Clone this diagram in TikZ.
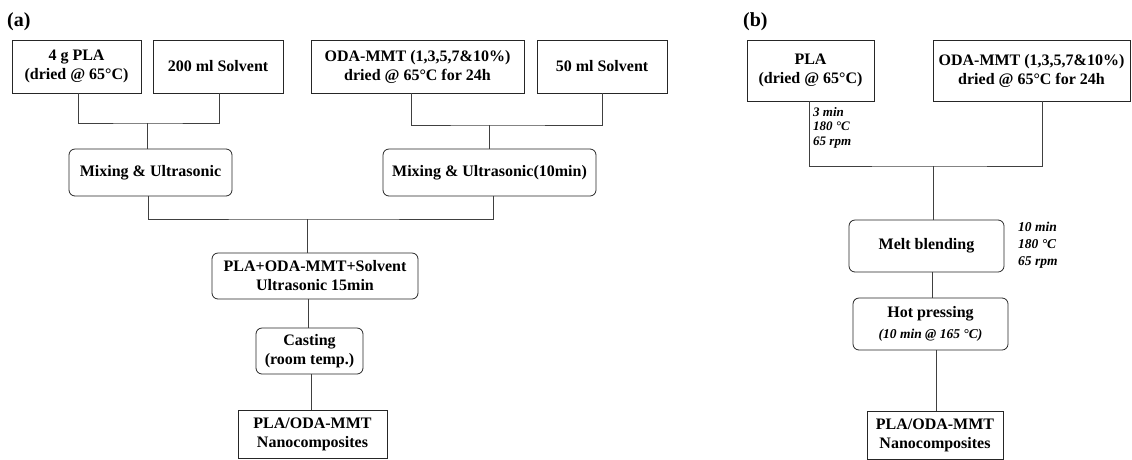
\documentclass[tikz,border=0pt]{standalone}
\usepackage{fontspec}
\setmainfont{Liberation Serif}
\begin{document}
\begin{tikzpicture}[x=1pt,y=-1pt,
  box/.style={draw=black!85, line width=0.8pt, align=center, inner sep=0pt,
    font=\fontsize{16}{19}\selectfont\bfseries},
  rbox/.style={box, rounded corners=6pt},
  conn/.style={draw=black!75, line width=0.8pt},
  note/.style={align=left, inner sep=0pt, anchor=north west,
    font=\fontsize{13}{14.5}\selectfont\bfseries\itshape},
  lab/.style={inner sep=0pt, anchor=north west, font=\fontsize{20}{20}\selectfont\bfseries}]
\useasboundingbox (0,0) rectangle (1132,459);
% panel (a)
\node[lab] (la) at (7,12) {(a)};
\node[box, minimum width=129, minimum height=53] (A1) at (76.5,66.5) {4 g PLA\\(dried @ 65°C)};
\node[box, minimum width=130, minimum height=53] (A2) at (218,66.5) {200 ml Solvent};
\node[box, minimum width=213, minimum height=53] (A3) at (417.5,66.5) {ODA-MMT (1,3,5,7\&10\%)\\dried @ 65°C for 24h};
\node[box, minimum width=130, minimum height=53] (A4) at (602,66.5) {50 ml Solvent};
\node[rbox, minimum width=163, minimum height=47] (M1) at (150.5,172.5) {Mixing \& Ultrasonic};
\node[rbox, minimum width=213, minimum height=47] (M2) at (489.5,172.5) {Mixing \& Ultrasonic(10min)};
\node[rbox, minimum width=206, minimum height=46] (P) at (315,276) {PLA+ODA-MMT+Solvent\\Ultrasonic 15min};
\node[rbox, minimum width=107, minimum height=46] (C) at (309.5,351) {Casting\\(room temp.)};
\node[box, minimum width=149, minimum height=48] (F) at (312.5,434) {PLA/ODA-MMT\\Nanocomposites};
\coordinate (j1) at (147,123);
\coordinate (j2) at (489,125);
\coordinate (j3) at (307,219);
\draw[conn] ([xshift=1.5pt]A1.south) |- (j1) -| ([xshift=1pt]A2.south);
\draw[conn] (j1) -- (M1.north -| j1);
\draw[conn] ([xshift=-6.5pt]A3.south) |- (j2) -| (A4.south);
\draw[conn] (j2) -- (M2.north -| j2);
\draw[conn] ([xshift=-2.5pt]M1.south) |- (j3) -| ([xshift=3.5pt]M2.south);
\draw[conn] (j3) -- (P.north -| j3);
\draw[conn] ([xshift=-7pt]P.south) -- ([xshift=-1.5pt]C.north);
\draw[conn] ([xshift=1.5pt]C.south) -- ([xshift=-1.5pt]F.north);
% panel (b)
\node[lab] (lb) at (743,12) {(b)};
\node[box, minimum width=127, minimum height=61] (B1) at (810.5,70.5) {PLA\\(dried @ 65°C)};
\node[box, minimum width=197, minimum height=61] (B2) at (1031.5,70.5) {ODA-MMT (1,3,5,7\&10\%)\\dried @ 65°C for 24h};
\node[rbox, minimum width=155, minimum height=52] (MB) at (926.5,246) {Melt blending};
\node[rbox, minimum width=155, minimum height=52] (HP) at (930.5,324) {Hot pressing\\[2pt]{\fontsize{13.5}{14}\selectfont\itshape (10 min @ 165 °C)}};
\node[box, minimum width=136, minimum height=48] (FB) at (935,435.5) {PLA/ODA-MMT\\Nanocomposites};
\node[note] (n1) at (813,107) {3 min\\180 °C\\65 rpm};
\node[note, font=\fontsize{13.5}{17}\selectfont\bfseries\itshape] (n2) at (1018,222) {10 min\\180 °C\\65 rpm};
\coordinate (k1) at (933,166);
\draw[conn] ([xshift=-1.5pt]B1.south) |- (k1) -| ([xshift=10.5pt]B2.south);
\draw[conn] (k1) -- (MB.north -| k1);
\draw[conn] ([xshift=5.5pt]MB.south) -- ([xshift=1.5pt]HP.north);
\draw[conn] ([xshift=5.5pt]HP.south) -- ([xshift=1pt]FB.north);
\end{tikzpicture}
\end{document}
